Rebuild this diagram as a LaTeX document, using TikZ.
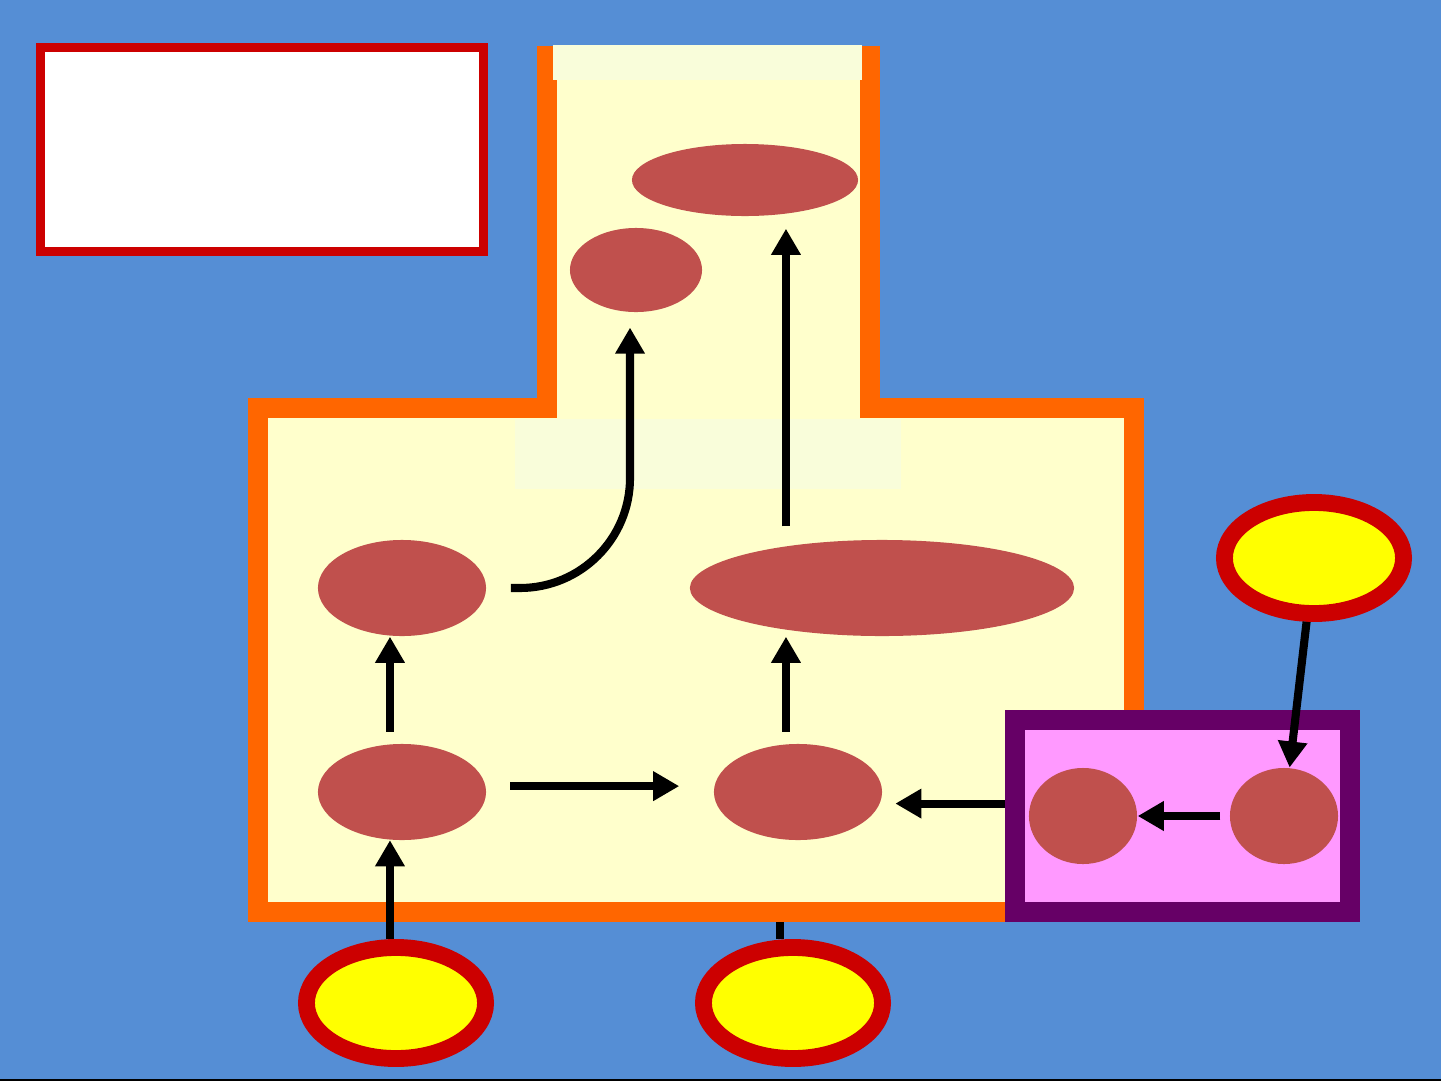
\documentclass[tikz,border=0pt]{standalone}
\usepackage{tikz}
\usetikzlibrary{arrows.meta,shapes.geometric}
\definecolor{skyblue}{HTML}{558ED5}
\definecolor{keyred}{HTML}{CC0000}
\definecolor{tborder}{HTML}{FF6600}
\definecolor{tfill}{HTML}{FFFFCC}
\definecolor{glowfill}{HTML}{F9FDDA}
\definecolor{blobred}{HTML}{C0504D}
\definecolor{grpborder}{HTML}{660066}
\definecolor{grpfill}{HTML}{FF99FF}
\definecolor{srcfill}{HTML}{FFFF00}
\begin{document}
\begin{tikzpicture}[
  x=0.01cm, y=-0.01cm,
  keybox/.style={draw=keyred, line width=2.6pt, fill=white, inner sep=0pt, minimum width=4.43cm, minimum height=2.04cm},
  grpbox/.style={draw=grpborder, line width=5.7pt, fill=grpfill, inner sep=0pt, minimum width=3.35cm, minimum height=1.92cm},
  blob/.style={ellipse, fill=blobred, inner sep=0pt},
  src/.style={ellipse, draw=keyred, line width=4.8pt, fill=srcfill, inner sep=0pt, minimum width=1.79cm, minimum height=1.11cm},
  arr/.style={-{Triangle[width=2.8mm,length=2.6mm]}, line width=2.3pt},
  stub/.style={line width=2.3pt},
]
  \useasboundingbox (0,0) rectangle (1441,1081);
  \fill[skyblue] (0,0) rectangle (1441,1081);
  \draw[black, line width=0.6pt] (0,1080) -- (1441,1080);

  \node[keybox] (key) at (262,149.5) {};

  % T-shaped region
  \coordinate (tb) at (780,922);
  \draw[tborder, line width=5.7pt, fill=tfill, line join=miter]
    (547,46) -- (547,408) -- (258,408) -- (258,912) -- (1134,912) -- (1134,408) -- (870,408) -- (870,46);
  \fill[glowfill] (553,45) rectangle (862,80);
  \fill[glowfill] (515,419) rectangle (901,489);

  \node[grpbox] (grp) at (1182.5,816) {};

  \node[blob, minimum width=2.26cm, minimum height=0.72cm] (etop) at (745,180) {};
  \node[blob, minimum width=1.32cm, minimum height=0.84cm] (esm) at (636,270) {};
  \node[blob, minimum width=1.68cm, minimum height=0.96cm] (elm) at (402,588) {};
  \node[blob, minimum width=3.84cm, minimum height=0.96cm] (ewide) at (882,588) {};
  \node[blob, minimum width=1.68cm, minimum height=0.96cm] (elb) at (402,792) {};
  \node[blob, minimum width=1.68cm, minimum height=0.96cm] (emb) at (798,792) {};
  \node[blob, minimum width=1.08cm, minimum height=0.96cm] (ppl) at (1083,816) {};
  \node[blob, minimum width=1.08cm, minimum height=0.96cm] (ppr) at (1284,816) {};

  \node[src] (ylb) at (396,1003) {};
  \node[src] (ymb) at (793,1003) {};
  \node[src] (yr) at (1314,558) {};

  \draw[arr] (elb.-104 |- ylb.north) -- (elb.-104);
  \draw[arr, shorten <=1.2mm] (elb.104) -- (elb.104 |- elm.south);
  \draw[arr, shorten <=2.4mm, shorten >=3.4mm] (elb.4) -- (elb.4 -| emb.west);
  \draw[arr, shorten <=1.2mm] (emb.104) -- (emb.104 |- ewide.south);
  \draw[arr, shorten >=1.5mm] (grp.west |- emb.-8) -- (emb.-8);
  \draw[arr, shorten <=0.9mm] (ppr) -- (ppl);
  \draw[arr] (yr) -- (ppr);
  \draw[arr, rounded corners=1.1cm, shorten <=2.4mm, shorten >=1.5mm] (elm.east) -| (esm.-98);
  \draw[arr, shorten <=1.3mm, shorten >=1.2mm] (emb.104 |- ewide.north) -- (emb.104 |- etop.south);
  \draw[stub] (tb |- ymb.north) -- (tb);
\end{tikzpicture}
\end{document}
